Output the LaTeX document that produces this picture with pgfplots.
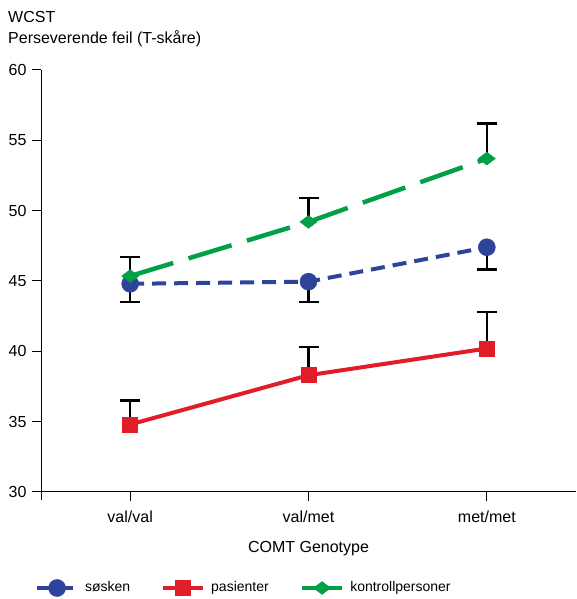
\documentclass[border=0pt]{standalone}
\usepackage{fontspec}
\setmainfont{Liberation Sans}
\usepackage{pgfplots}
\pgfplotsset{compat=1.18}
\definecolor{cblue}{RGB}{46,68,154}
\definecolor{cred}{RGB}{225,30,40}
\definecolor{cgreen}{RGB}{0,160,70}
\begin{document}
\fontsize{16bp}{19bp}\selectfont
\begin{tikzpicture}[x=1bp,y=1bp]
\path (0,0) rectangle (576,599);
\node[anchor=base west, inner sep=0] at (8,576) {WCST};
\node[anchor=base west, inner sep=0] at (8,555) {Perseverende feil (T-skåre)};
\begin{axis}[
  at={(41bp,107bp)}, anchor=south west,
  scale only axis, width=535bp, height=422bp,
  axis x line*=bottom, axis y line*=left,
  axis line style={black, line width=1bp},
  xmin=-0.5, xmax=2.5, ymin=30, ymax=60,
  xtick={0,1,2}, xticklabels={val/val,val/met,met/met},
  ytick={30,35,...,60},
  tick align=outside, major tick length=9bp,
  tick style={black, line width=1bp},
  /pgf/number format/assume math mode=true,
  ticklabel style={font=\fontsize{16bp}{19bp}\selectfont},
  xticklabel style={yshift=-4bp},
  xlabel={COMT Genotype},
  xlabel style={font=\fontsize{16bp}{19bp}\selectfont, at={(axis description cs:0.5,0)}, anchor=center, yshift=-57bp},
  legend columns=3,
  legend style={draw=none, fill=none, at={(-0.017,-0.2275)}, anchor=west,
    font=\fontsize{14bp}{17bp}\selectfont,
    /tikz/every odd column/.append style={column sep=4bp},
    /tikz/every even column/.append style={column sep=29bp}},
  legend image code/.code={\draw[mark repeat=2,mark phase=2] plot coordinates {(0bp,0bp) (20bp,0bp) (40bp,0bp)};},
  clip=false,
  every axis plot/.append style={
    error bars/error bar style={black, line width=2.5bp, solid},
    error bars/error mark options={black, mark size=10bp, line width=2.5bp, solid, rotate=90}},
]
\draw[black, line width=1bp] (axis cs:-0.5,30) -- ([yshift=-8bp]axis cs:-0.5,30);
\addplot[cblue, line width=4bp, dash pattern=on 14bp off 8bp, mark=*, mark size=8.5bp, mark options={solid, line width=0.5bp},
  error bars/.cd, y dir=minus, y explicit]
  coordinates {(0,44.8) -= (0,1.3) (1,44.95) -= (0,1.45) (2,47.4) -= (0,1.6)};
\addlegendentry{søsken}
\addplot[cred, line width=4bp, solid, mark=square*, mark size=7.5bp, mark options={solid, line width=0.5bp},
  error bars/.cd, y dir=plus, y explicit]
  coordinates {(0,34.8) += (0,1.7) (1,38.3) += (0,2.0) (2,40.2) += (0,2.6)};
\addlegendentry{pasienter}
\addplot[cgreen, line width=4.5bp, dash pattern=on 45bp off 16bp, mark=diamond*, mark size=8.5bp, mark options={solid, rotate=90, line width=0.5bp},
  error bars/.cd, y dir=plus, y explicit]
  coordinates {(0,45.35) += (0,1.35) (1,49.2) += (0,1.7) (2,53.7) += (0,2.5)};
\addlegendentry{kontrollpersoner}
\end{axis}
\end{tikzpicture}
\end{document}
